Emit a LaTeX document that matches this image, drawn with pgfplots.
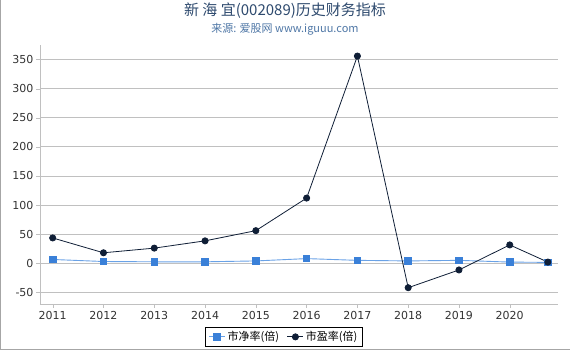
\documentclass[border=0pt]{standalone}
\usepackage{pgfplots}
\pgfplotsset{compat=1.18}
\usepackage{fontspec}
\setmainfont{DejaVu Sans}
\newfontfamily\cjk{Noto Sans CJK SC}
\definecolor{pbc}{HTML}{3A80D8}
\definecolor{pbl}{HTML}{6AA2E6}
\definecolor{pec}{HTML}{0F1E36}
\definecolor{titc}{HTML}{2E4A6E}
\definecolor{subc}{HTML}{4F77A6}
\definecolor{gridc}{HTML}{C0C0C0}
\definecolor{tickc}{HTML}{333333}
\begin{document}
\begin{tikzpicture}
\path[use as bounding box] (0pt,0pt) rectangle (570pt,350pt);
\draw[gray!70, line width=1pt] (0.5pt,350pt) -- (0.5pt,0.5pt) -- (570pt,0.5pt);
\node[text=titc, font=\cjk\fontsize{15}{17}\selectfont] at (285pt,339pt) {新 海 宜(002089)历史财务指标};
\node[text=subc, font=\cjk\fontsize{11}{13}\selectfont] at (285pt,321pt) {来源: 爱股网 www.iguuu.com};
\begin{axis}[
  at={(40pt,46pt)}, anchor=south west,
  scale only axis, width=518pt, height=259pt,
  xmin=2010.75, xmax=2020.95, ymin=-70, ymax=375,
  axis x line*=bottom, axis y line*=left,
  axis line style={gridc},
  xtick={2011,...,2020},
  xticklabel style={/pgf/number format/1000 sep={}},
  ytick={-50,0,50,100,150,200,250,300,350},
  ymajorgrids, grid style={gridc, line width=0.8pt},
  tick style={gridc}, tick align=outside, major tick length=4pt,
  ticklabel style={font=\fontsize{11}{13}\selectfont, text=tickc},
  yticklabel style={xshift=1pt},
  /pgf/number format/assume math mode=true,
  legend style={at={(0.471,-0.127)}, anchor=center, legend columns=2, draw=black,
    font=\cjk\fontsize{11}{13}\selectfont, inner xsep=3pt, inner ysep=2pt, /tikz/every even column/.append style={column sep=6pt}},
  legend image code/.code={\draw[#1] (0pt,0pt) -- (16pt,0pt); \draw[#1, only marks] plot coordinates {(8pt,0pt)};},
]
\addplot[pbl, line width=0.9pt, mark=square*, mark size=3.3pt, mark options={fill=pbc, draw=pbc}] coordinates {
(2011,6.5) (2012,3) (2013,2.5) (2014,2.5) (2015,4) (2016,8) (2017,5) (2018,4) (2019,5) (2020,2) (2020.75,1.5)};
\addlegendentry{市净率(倍)}
\addplot[pec, line width=0.8pt, mark=*, mark size=3.1pt, mark options={fill=pec}] coordinates {
(2011,43.5) (2012,18) (2013,26) (2014,38.5) (2015,56) (2016,112) (2017,356) (2018,-42) (2019,-11.5) (2020,31.5) (2020.75,2)};
\addlegendentry{市盈率(倍)}
\end{axis}
\end{tikzpicture}
\end{document}
